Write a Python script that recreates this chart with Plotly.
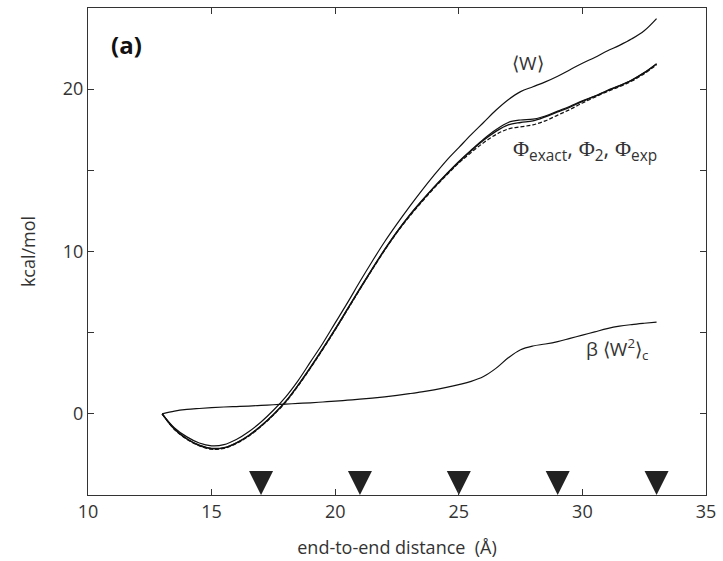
import plotly.graph_objects as go

# end-to-end distance (Å)
dist = [13, 13.5, 14, 14.5, 15, 15.5, 16, 16.5, 17, 17.5, 18, 18.5, 19, 19.5, 20,
        20.5, 21, 21.5, 22, 22.5, 23, 23.5, 24, 24.5, 25, 25.5, 26, 26.5, 27, 27.5,
        28, 28.5, 29, 29.5, 30, 30.5, 31, 31.5, 32, 32.5, 33]

# <W>
w_mean = [0, -0.87, -1.42, -1.8, -1.97, -1.9, -1.58, -1.1, -0.5, 0.22, 1.05, 2.05, 3.2, 4.35, 5.6,
          6.85, 8.15, 9.4, 10.6, 11.7, 12.75, 13.75, 14.7, 15.6, 16.4, 17.2, 17.95, 18.7, 19.35, 19.85,
          20.15, 20.45, 20.8, 21.2, 21.6, 21.95, 22.35, 22.7, 23.1, 23.6, 24.35]

# Phi_exact
phi_exact = [0, -0.95, -1.55, -1.95, -2.15, -2.1, -1.8, -1.35, -0.75, -0.05, 0.75, 1.75, 2.85, 4.0, 5.2,
             6.45, 7.7, 8.92, 10.1, 11.2, 12.2, 13.1, 13.95, 14.75, 15.5, 16.2, 16.85, 17.4, 17.8, 17.95,
             18.05, 18.3, 18.6, 18.9, 19.25, 19.55, 19.9, 20.2, 20.55, 21.0, 21.55]

# Phi_2
phi_2 = [0, -0.93, -1.53, -1.93, -2.12, -2.08, -1.78, -1.33, -0.73, -0.03, 0.78, 1.78, 2.88, 4.03, 5.23,
         6.48, 7.73, 8.95, 10.13, 11.23, 12.23, 13.13, 13.98, 14.78, 15.55, 16.25, 16.92, 17.5, 17.95, 18.1,
         18.15, 18.35, 18.65, 18.95, 19.28, 19.58, 19.92, 20.22, 20.57, 21.02, 21.57]

# Phi_exp (dashed)
phi_exp = [0, -0.97, -1.57, -1.97, -2.18, -2.13, -1.83, -1.38, -0.78, -0.08, 0.72, 1.72, 2.82, 3.97, 5.17,
           6.42, 7.67, 8.89, 10.07, 11.17, 12.15, 13.05, 13.9, 14.7, 15.45, 16.1, 16.7, 17.2, 17.55, 17.68,
           17.8, 18.05, 18.4, 18.75, 19.15, 19.5, 19.85, 20.15, 20.5, 20.95, 21.5]

# beta <W^2>_c
beta_w2 = [0, 0.17, 0.27, 0.33, 0.38, 0.42, 0.45, 0.48, 0.52, 0.56, 0.6, 0.64, 0.68, 0.73, 0.78,
           0.84, 0.9, 0.97, 1.05, 1.14, 1.24, 1.35, 1.48, 1.63, 1.8, 2.0, 2.3, 2.8, 3.45, 3.95,
           4.18, 4.3, 4.45, 4.65, 4.85, 5.05, 5.25, 5.4, 5.5, 5.58, 5.65]

# triangle markers positions
marker_x = [17, 21, 25, 29, 33]
marker_y = [-5, -5, -5, -5, -5]

x_ticks = [10, 15, 20, 25, 30, 35]
y_ticks = [0, 10, 20]

LINE = "#111111"
TXT = "#333333"
FONT = "Open Sans"

fig = go.Figure()

def add_line(y, dash="solid", width=1.2):
    fig.add_trace(go.Scatter(x=dist, y=y, mode="lines",
                             line=dict(color=LINE, width=width, dash=dash, shape="spline", smoothing=1.0),
                             showlegend=False, hoverinfo="skip"))

add_line(w_mean)
add_line(phi_exact, width=1.4)
add_line(phi_2, width=1.2)
add_line(phi_exp, dash="4px,2px", width=1.2)
add_line(beta_w2)

fig.add_trace(go.Scatter(x=marker_x, y=marker_y, mode="markers",
                         marker=dict(symbol="arrow-down", size=24, color="#222222",
                                     line=dict(width=0)),
                         cliponaxis=False, showlegend=False, hoverinfo="skip"))

axis_common = dict(showline=True, linecolor="#333333", linewidth=1.3, mirror="ticks",
                   ticks="inside", ticklen=6, tickcolor="#333333", tickwidth=1,
                   showgrid=False, zeroline=False,
                   tickfont=dict(family=FONT, size=18, color=TXT))

fig.update_xaxes(range=[10, 35], tickvals=x_ticks,
                 title=dict(text="end-to-end distance  (Å)", font=dict(family=FONT, size=18, color=TXT),
                            standoff=19),
                 **axis_common)
fig.update_yaxes(range=[-5, 25], tickvals=y_ticks,
                 minor=dict(tickvals=[5, 15], ticks="inside", ticklen=6, tickcolor="#333333", tickwidth=1,
                            showgrid=False),
                 title=dict(text="kcal/mol", font=dict(family=FONT, size=18, color=TXT), standoff=22),
                 **axis_common)

annots = [
    dict(x=0.034, y=0.926, xref="paper", yref="paper", text="<b>(a)</b>",
         font=dict(family=FONT, size=24, color="#111111"), showarrow=False,
         xanchor="left", yanchor="middle"),
    dict(x=27.8, y=21.6, text="⟨W⟩", font=dict(family=FONT, size=19, color=TXT),
         showarrow=False),
    dict(x=30.1, y=16.3,
         text="<span style='font-family:Liberation Serif'>Φ</span><sub>exact</sub>, "
              "<span style='font-family:Liberation Serif'>Φ</span><sub>2</sub>, "
              "<span style='font-family:Liberation Serif'>Φ</span><sub>exp</sub>",
         font=dict(family=FONT, size=22, color=TXT), showarrow=False),
    dict(x=31.4, y=4.0, text="β ⟨W<sup>2</sup>⟩<sub>c</sub>",
         font=dict(family=FONT, size=19, color=TXT), showarrow=False),
]
fig.update_layout(annotations=annots,
                  width=723, height=561,
                  margin=dict(l=88, r=16, t=7, b=65),
                  paper_bgcolor="white", plot_bgcolor="white")

fig.write_html("out.html")
